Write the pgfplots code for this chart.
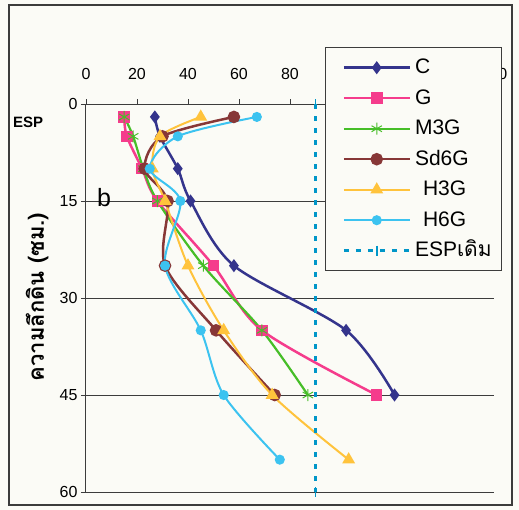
\documentclass[border=0pt]{standalone}
\usepackage{fontspec}
\setmainfont{Liberation Sans}
\newfontfamily\thaifont[Script=Thai]{Loma}
\usepackage{pgfplots}
\pgfplotsset{compat=1.18}

\definecolor{cC}{RGB}{52,52,140}
\definecolor{cG}{RGB}{245,60,140}
\definecolor{cM}{RGB}{70,190,40}
\definecolor{cS}{RGB}{135,55,55}
\definecolor{cH3}{RGB}{255,195,60}
\definecolor{cH6}{RGB}{60,195,240}
\definecolor{cE}{RGB}{0,150,200}
\definecolor{paper}{RGB}{251,251,246}
\definecolor{ink}{RGB}{60,60,60}

\begin{document}
\begin{tikzpicture}
\path[use as bounding box, fill=paper] (0,0) rectangle (519pt,510pt);
\draw[line width=1.2pt, ink] (9pt,5pt) rectangle (512pt,505pt);
\begin{axis}[
  at={(86pt,18pt)}, anchor=south west,
  scale only axis, width=408pt, height=388pt,
  xmin=0, xmax=160, ymin=0, ymax=60, y dir=reverse,
  axis x line=top, axis y line=left,
  axis line style={-, line width=1pt, ink},
  xtick={0,20,...,160}, ytick={0,15,30,45,60},
  ymajorgrids, grid style={line width=1pt, ink},
  tick align=outside, major tick length=5pt,
  tick style={ink, line width=0.8pt},
  ticklabel style={font=\fontsize{16}{18}\selectfont},
  /pgf/number format/assume math mode=true,
  xticklabel style={yshift=16pt},
  xlabel={\bfseries ESP},
  xlabel style={at={(axis description cs:-0.142,0.954)}, anchor=center, font=\fontsize{15}{18}\selectfont},
  ylabel={\thaifont\bfseries ความลึกดิน (ซม.)},
  ylabel style={at={(axis description cs:-0.12,0.5026)}, anchor=center, rotate=0, font=\fontsize{22}{24}\selectfont},
  legend style={at={(axis description cs:0.5858,1.147)}, anchor=north west,
    draw=ink, line width=1pt, fill=paper,
    font=\fontsize{21}{24}\selectfont, inner xsep=6pt, inner ysep=5pt,
    row sep=0pt, cells={anchor=west},
    nodes={text height=17.5pt, text depth=5pt, inner sep=4pt}},
  legend cell align=left,
  legend image code/.code={\path (0pt,0pt); \draw[mark repeat=2,mark phase=2,#1] plot coordinates {(11pt,0pt) (44pt,0pt) (77pt,0pt)};},
]
% topsoil-to-subsoil ESP profiles
\addplot[cC, line width=2.5pt, smooth, mark=diamond*, mark size=4.5pt, mark options={solid}]
  coordinates {(27,2)(29,5)(36,10)(41,15)(58,25)(102,35)(121,45)};
\addlegendentry{C}
\addplot[cG, line width=2.5pt, smooth, mark=square*, mark size=4.5pt, mark options={solid}]
  coordinates {(15,2)(16,5)(22,10)(28,15)(50,25)(69,35)(114,45)};
\addlegendentry{G}
\addplot[cM, line width=2.2pt, smooth, mark=asterisk, mark size=6pt, mark options={solid, line width=1pt}]
  coordinates {(15,2)(18.5,5)(22.5,10)(28,15)(46,25)(69,35)(87,45)};
\addlegendentry{M3G}
\addplot[cS, line width=2.5pt, smooth, mark=*, mark size=5pt, mark options={solid}]
  coordinates {(58,2)(30,5)(23,10)(32,15)(31,25)(51,35)(74,45)};
\addlegendentry{Sd6G}
\addplot[cH3, line width=2pt, smooth, mark=triangle*, mark size=5.5pt, mark options={solid}]
  coordinates {(45,2)(29,5)(26,10)(31,15)(40,25)(54,35)(73,45)(103,55)};
\addlegendentry{\hspace{8pt}H3G}
\addplot[cH6, line width=2pt, smooth, mark=*, mark size=4pt, mark options={solid}]
  coordinates {(67,2)(36,5)(25,10)(37,15)(31,25)(45,35)(54,45)(76,55)};
\addlegendentry{\hspace{8pt}H6G}
% original ESP level
\addplot[cE, line width=2.5pt, dash pattern=on 5pt off 7pt, mark=|, mark size=5pt, mark options={solid, line width=1.5pt}]
  coordinates {(90,0)(90,60)};
\addlegendentry{ESP{\thaifont เดิม}}
\node[font=\fontsize{25}{28}\selectfont] at (axis description cs:0.044,0.760) {b};
\end{axis}
\end{tikzpicture}
\end{document}
